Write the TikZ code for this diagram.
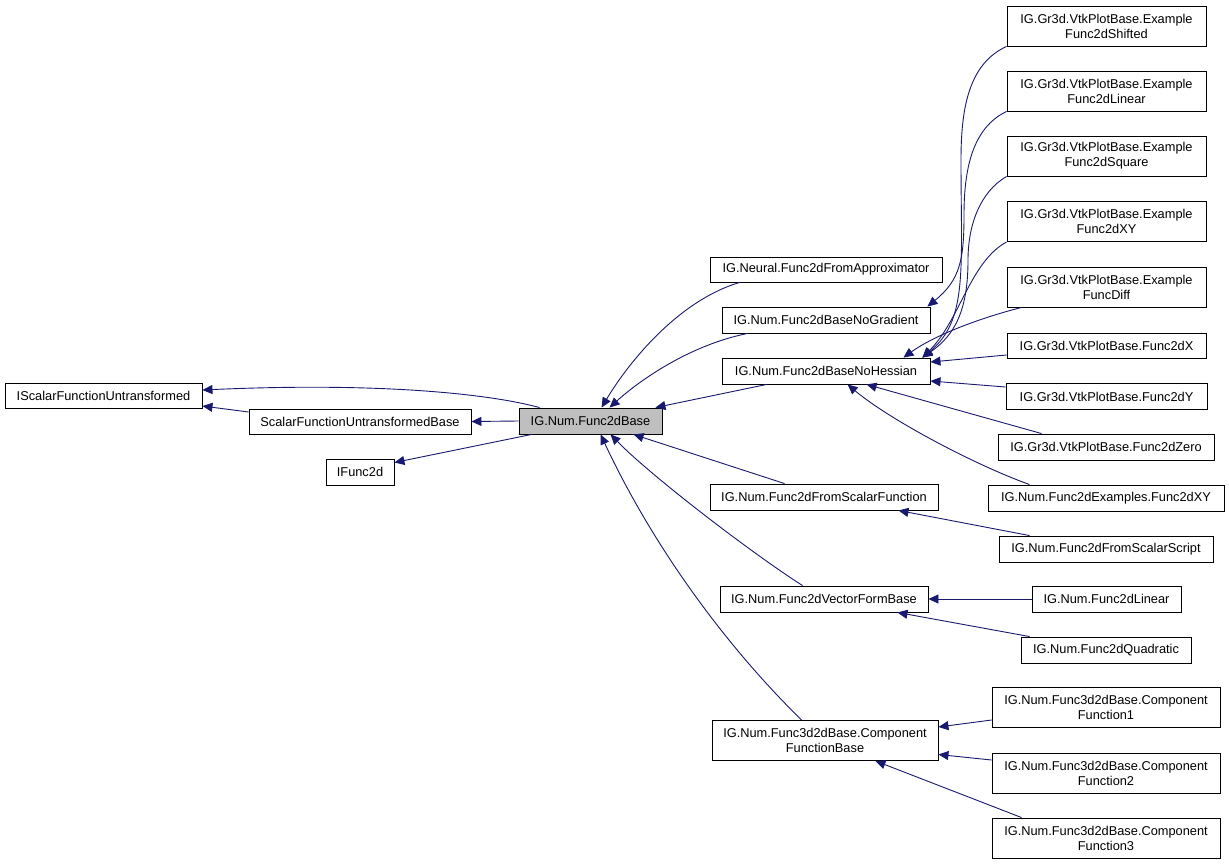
\documentclass[tikz,border=0pt]{standalone}
\usepackage{fontspec}
\setmainfont{Liberation Sans}
\usetikzlibrary{arrows.meta}
\definecolor{edgecol}{HTML}{191970}
\definecolor{basegray}{HTML}{BFBFBF}
\begin{document}
\begin{tikzpicture}[x=1pt,y=-1pt,
  box/.style={draw=black, line width=0.9pt, fill=white, inner sep=0pt, align=center,
    font=\fontsize{12.8}{15}\selectfont, minimum height=26pt},
  tall/.style={minimum height=40pt},
  edge/.style={draw=edgecol, line width=0.9pt, -{Triangle[length=10pt,width=9pt]}}]
\useasboundingbox (0,0) rectangle (1229,865);
\fill[white] (0,0) rectangle (1229,865);

% left part
\node[box, minimum width=197pt, minimum height=25pt] (n1) at (103.5,395.5) {IScalarFunctionUntransformed};
\node[box, minimum width=222pt, minimum height=25pt] (n2) at (360,421.5) {ScalarFunctionUntransformedBase};
\node[box, minimum width=68pt] (n3) at (360,472) {IFunc2d};
\node[box, minimum width=143pt, fill=basegray] (fb) at (590.5,421) {IG.Num.Func2dBase};

% middle column
\node[box, minimum width=232pt, minimum height=25pt] (nn) at (826,269.5) {IG.Neural.Func2dFromApproximator};
\node[box, minimum width=208pt] (ng) at (826,320) {IG.Num.Func2dBaseNoGradient};
\node[box, minimum width=208pt] (nh) at (826,371) {IG.Num.Func2dBaseNoHessian};
\node[box, minimum width=228pt] (fsf) at (824,497) {IG.Num.Func2dFromScalarFunction};
\node[box, minimum width=208pt] (vf) at (824,599) {IG.Num.Func2dVectorFormBase};
\node[box, tall, minimum width=226pt] (cfb) at (825,740.5) {IG.Num.Func3d2dBase.Component\\FunctionBase};

% right column
\node[box, tall, minimum width=199pt] (r1) at (1106.5,26) {IG.Gr3d.VtkPlotBase.Example\\Func2dShifted};
\node[box, tall, minimum width=199pt] (r2) at (1106.5,91) {IG.Gr3d.VtkPlotBase.Example\\Func2dLinear};
\node[box, tall, minimum width=199pt] (r3) at (1106.5,156) {IG.Gr3d.VtkPlotBase.Example\\Func2dSquare};
\node[box, tall, minimum width=199pt] (r4) at (1106.5,221.5) {IG.Gr3d.VtkPlotBase.Example\\Func2dXY};
\node[box, tall, minimum width=199pt] (r5) at (1106.5,287) {IG.Gr3d.VtkPlotBase.Example\\FuncDiff};
\node[box, minimum width=199pt, minimum height=25pt] (r6) at (1106.5,346) {IG.Gr3d.VtkPlotBase.Func2dX};
\node[box, minimum width=201pt] (r7) at (1106.5,396.5) {IG.Gr3d.VtkPlotBase.Func2dY};
\node[box, minimum width=216pt] (r8) at (1106,447) {IG.Gr3d.VtkPlotBase.Func2dZero};
\node[box, minimum width=236pt] (r9) at (1106,498) {IG.Num.Func2dExamples.Func2dXY};
\node[box, minimum width=214pt] (r10) at (1106,549) {IG.Num.Func2dFromScalarScript};
\node[box, minimum width=149pt] (r11) at (1106.5,599) {IG.Num.Func2dLinear};
\node[box, minimum width=170pt] (r12) at (1106,650) {IG.Num.Func2dQuadratic};
\node[box, tall, minimum width=228pt] (r13) at (1106,707) {IG.Num.Func3d2dBase.Component\\Function1};
\node[box, tall, minimum width=228pt] (r14) at (1106,773) {IG.Num.Func3d2dBase.Component\\Function2};
\node[box, tall, minimum width=228pt] (r15) at (1106,838) {IG.Num.Func3d2dBase.Component\\Function3};

% edges into left part
\draw[edge] ([xshift=21pt]fb.north west) .. controls (490,394) and (380,382) .. ([yshift=5.5pt]n1.east);
\draw[edge] ([yshift=9.5pt]n2.west) -- ([yshift=-10.5pt]n1.east);
\draw[edge] (fb.west) -- (n2.east);
\draw[edge] ([xshift=13pt]fb.south west) -- ([yshift=9.5pt]n3.east);

% edges into Func2dBase
\draw[edge] ([xshift=30pt]nn.south west) .. controls (680,300) and (630,360) .. ([xshift=83pt]fb.north west);
\draw[edge] ([xshift=26pt]ng.south west) .. controls (690,345) and (640,380) .. ([xshift=91pt]fb.north west);
\draw[edge] ([xshift=45pt]nh.south west) -- ([xshift=-7pt]fb.north east);
\draw[edge] ([xshift=75pt]fsf.north west) -- ([xshift=115pt]fb.south west);
\draw[edge] ([xshift=83pt]vf.north west) .. controls (750,552) and (650,475) .. ([xshift=92pt]fb.south west);
\draw[edge] ([xshift=90pt]cfb.north west) .. controls (720,640) and (650,540) .. ([xshift=82pt]fb.south west);

% edges into NoGradient / NoHessian
\draw[edge] (r1.south west) .. controls (968,64) and (961,110) .. (961,160) .. controls (961,270) and (968,320) .. ([xshift=-8pt]nh.north east);
\draw[edge] (r2.south west) .. controls (972,128) and (964,170) .. (964,215) .. controls (964,260) and (960,280) .. ([xshift=-3pt]ng.north east);
\draw[edge] (r3.south west) .. controls (980,192) and (968,225) .. (968,260) .. controls (968,310) and (955,335) .. ([xshift=-8pt]nh.north east);
\draw[edge] (r4.south west) .. controls (970,262) and (960,320) .. ([xshift=-8pt]nh.north east);
\draw[edge] ([xshift=15pt]r5.south west) .. controls (980,318) and (935,335) .. ([xshift=-27pt]nh.north east);
\draw[edge] ([yshift=-9pt]r6.west) -- ([yshift=9pt]nh.east);
\draw[edge] ([yshift=9.5pt]r7.west) -- ([yshift=-10pt]nh.east);
\draw[edge] ([xshift=44pt]r8.north west) -- ([xshift=145pt]nh.south west);
\draw[edge] ([xshift=42pt]r9.north west) .. controls (975,465) and (890,420) .. ([xshift=126pt]nh.south west);

% other edges
\draw[edge] ([xshift=31pt]r10.north west) -- ([xshift=-40pt]fsf.south east);
\draw[edge] (r11.west) -- (vf.east);
\draw[edge] ([xshift=9pt]r12.north west) -- ([xshift=-31pt]vf.south east);
\draw[edge] ([yshift=-13pt]r13.west) -- ([yshift=13.5pt]cfb.east);
\draw[edge] ([yshift=13pt]r14.west) -- ([yshift=-14pt]cfb.east);
\draw[edge] ([xshift=30pt]r15.north west) -- ([xshift=-63pt]cfb.south east);
\end{tikzpicture}
\end{document}
